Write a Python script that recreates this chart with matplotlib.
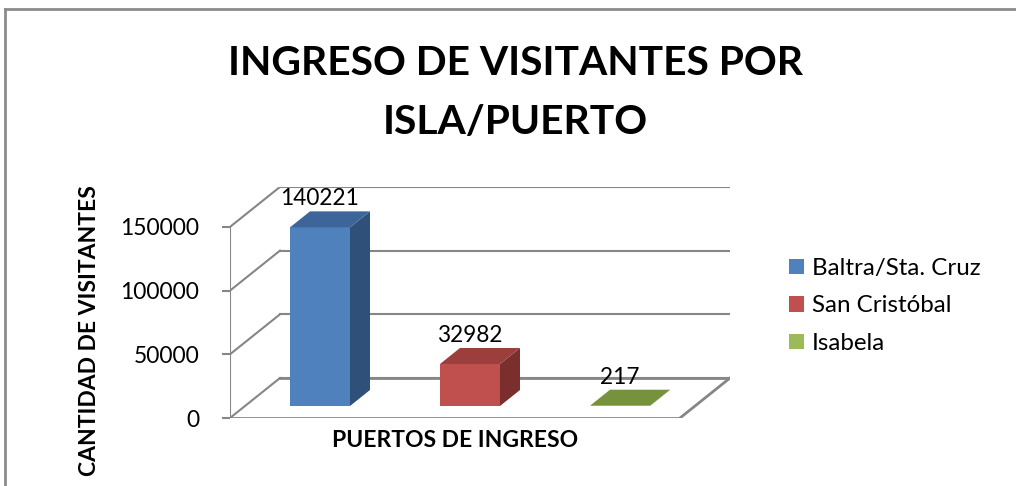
import matplotlib
matplotlib.use('Agg')
import matplotlib.pyplot as plt
from matplotlib.patches import Polygon, Patch
from matplotlib.lines import Line2D

categories = ['Baltra/Sta. Cruz', 'San Cristóbal', 'Isabela']
visitors = [140221, 32982, 217]
yticks = [0, 50000, 100000, 150000]
front_colors = ['#4F81BD', '#C0504D', '#9BBB59']
top_colors = ['#3D6599', '#9B3E3C', '#76923C']
side_colors = ['#2F5079', '#7A2F2D', '#5E7730']

plt.rcParams['font.family'] = ['Lato', 'DejaVu Sans']

W, H = 1016, 486
fig = plt.figure(figsize=(W / 100, H / 100), dpi=100)

# oblique depth of the 3d box, in data units
px_per_val = 63.7 / 50000
DX = 1 / 3
DY = 40 / px_per_val
ymax = yticks[-1] + DY
ncat = len(categories)

ax = fig.add_axes([230 / W, 68 / H, 500 / W, (ymax * px_per_val) / H])
ax.set_xlim(0, ncat + DX)
ax.set_ylim(0, ymax)
for s in ax.spines.values():
    s.set_visible(False)
ax.set_xticks([])
ax.set_yticks(yticks)
ax.tick_params(axis='y', length=6, width=1.5, color='#868686', labelsize=16.5, pad=16)

grid = '#868686'
# back wall grid lines + side wall diagonals
for v in yticks:
    ax.plot([DX, ncat + DX], [v + DY, v + DY], color=grid, lw=1.5, zorder=1)
    ax.plot([0, DX], [v, v + DY], color=grid, lw=1.5, zorder=1)
ax.plot([0, 0], [0, yticks[-1]], color=grid, lw=1.5, zorder=1)
# floor outline
ax.plot([0, ncat], [0, 0], color=grid, lw=2, zorder=1)
ax.plot([ncat, ncat + DX], [0, DY], color=grid, lw=2, zorder=1)
ax.plot([DX, ncat + DX], [DY, DY], color=grid, lw=2, zorder=1)

bw = 0.4
f0, f1 = 0.3, 0.7
for i, v in enumerate(visitors):
    cx = i + 0.5 + f0 * DX
    by = f0 * DY
    x0, x1 = cx - bw / 2, cx + bw / 2
    ddx, ddy = (f1 - f0) * DX, (f1 - f0) * DY
    front = [(x0, by), (x1, by), (x1, by + v), (x0, by + v)]
    top = [(x0, by + v), (x1, by + v), (x1 + ddx, by + v + ddy), (x0 + ddx, by + v + ddy)]
    side = [(x1, by), (x1 + ddx, by + ddy), (x1 + ddx, by + v + ddy), (x1, by + v)]
    ax.add_patch(Polygon(side, closed=True, fc=side_colors[i], ec='none', zorder=3))
    ax.add_patch(Polygon(front, closed=True, fc=front_colors[i], ec='none', zorder=3))
    ax.add_patch(Polygon(top, closed=True, fc=top_colors[i], ec='none', zorder=3))
    ax.annotate(str(v), (cx, by + v), xytext=(0, 13), textcoords='offset points',
                ha='center', va='bottom', fontsize=16.3, zorder=4)

ax.set_ylabel('CANTIDAD DE VISITANTES', fontsize=16.5, fontweight='bold')
ax.yaxis.set_label_coords(-0.26, 0.379)
ax.set_xlabel('PUERTOS DE INGRESO', fontsize=16.5, fontweight='bold')
ax.xaxis.set_label_coords(1.5 / (ncat + DX), -0.052)

fig.text(515 / W, 1 - 93 / H, 'INGRESO DE VISITANTES POR\nISLA/PUERTO', ha='center', va='center',
         fontsize=29.3, fontweight='bold', linespacing=1.75)

handles = [Patch(fc=c, ec='none') for c in front_colors]
fig.legend(handles, categories, loc='upper left', bbox_to_anchor=(789 / W, 1 - 258 / H),
           frameon=False, fontsize=17.4, handlelength=0.6, handleheight=0.6,
           handletextpad=0.35, labelspacing=0.68, borderaxespad=0, borderpad=0)

# chart frame (right and bottom edges cut off)
fig.add_artist(Line2D([5 / W, 1], [1 - 9 / H, 1 - 9 / H], color='#8c8c8c', lw=2))
fig.add_artist(Line2D([5 / W, 5 / W], [0, 1 - 9 / H], color='#8c8c8c', lw=2))

fig.savefig('out.png', dpi=100)
